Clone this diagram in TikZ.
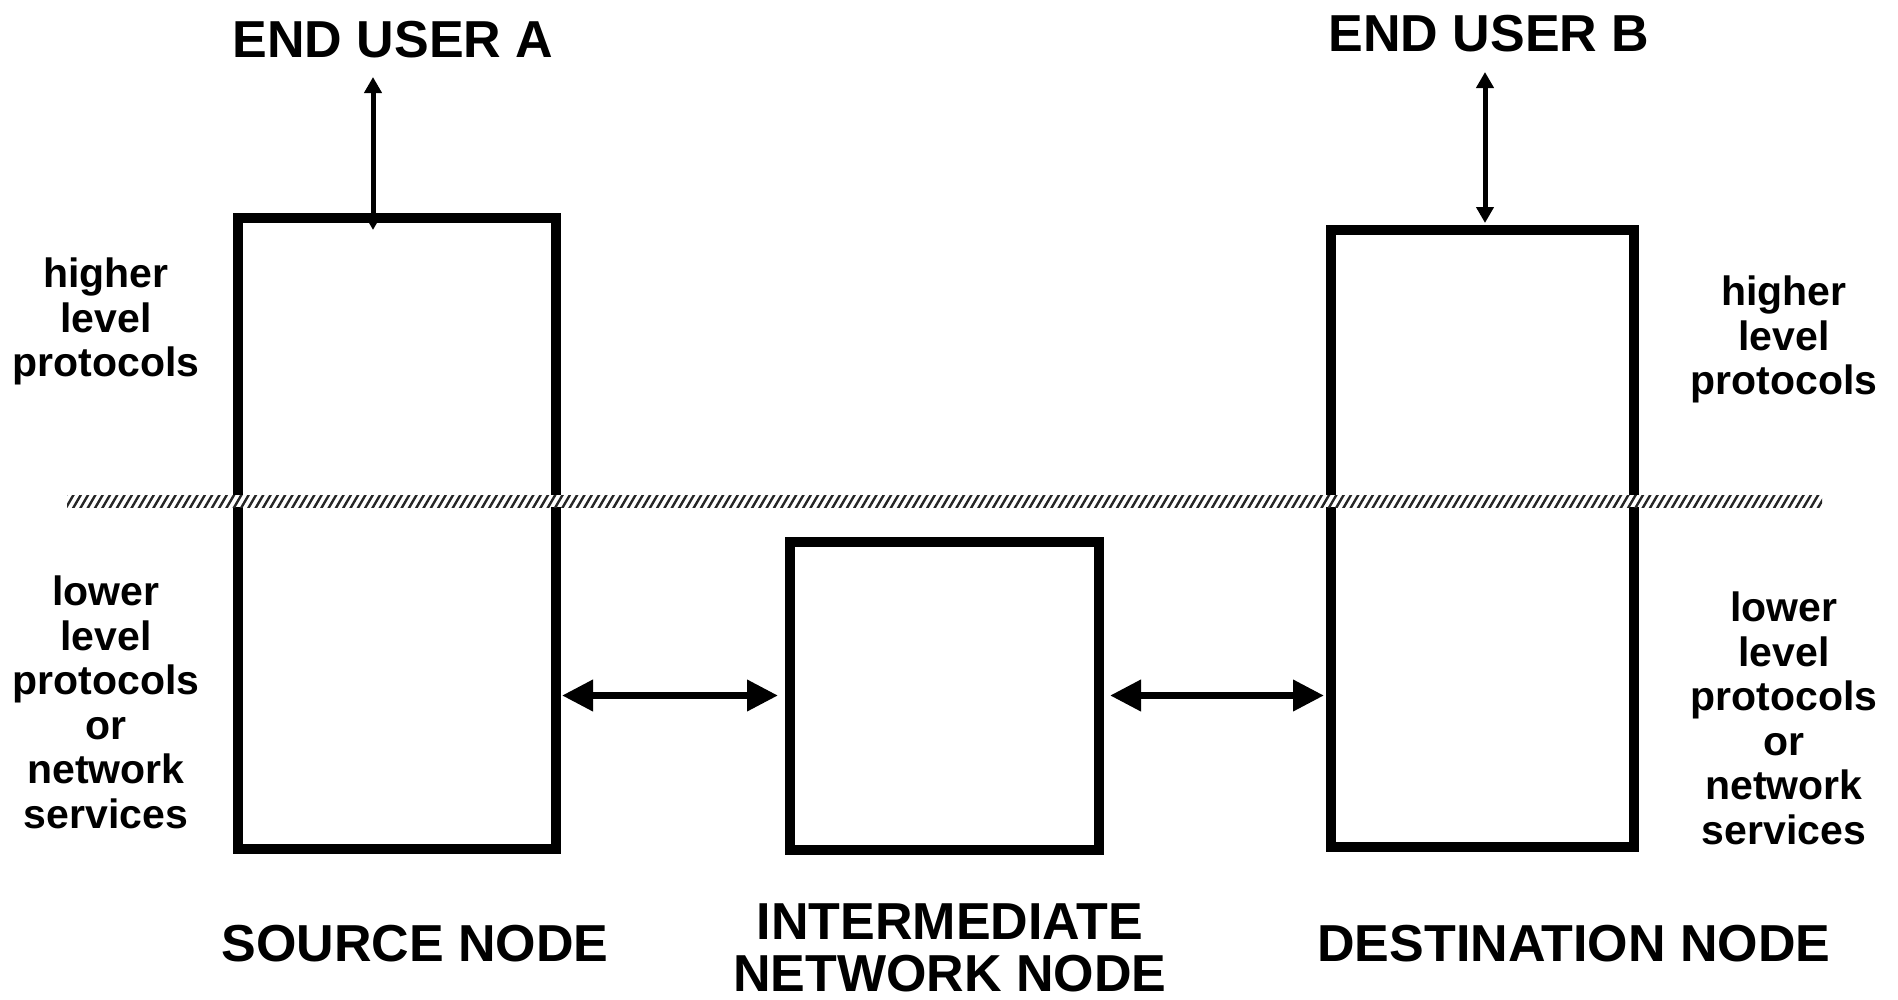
\documentclass[tikz,border=0pt]{standalone}
\usepackage{fontspec}
\setmainfont{Liberation Sans}
\usetikzlibrary{arrows.meta,calc}
\tikzset{
  big/.style={font=\fontsize{52}{52}\selectfont\bfseries, inner sep=0pt, align=center},
  small/.style={font=\fontsize{41}{44.5}\selectfont\bfseries, inner sep=0pt, align=center},
  nodebox/.style={draw=black, line width=10pt, inner sep=0pt, fill=none},
  thinarrow/.style={line width=5pt, {Triangle[length=16pt,width=17pt]}-{Triangle[length=16pt,width=17pt]}},
  thickarrow/.style={line width=7pt, {Triangle[length=31pt,width=30pt]}-{Triangle[length=31pt,width=30pt]}},
  hatchline/.style={line width=2.4pt, black!85}
}
\begin{document}
\begin{tikzpicture}[x=1pt,y=-1pt]
\useasboundingbox (0,0) rectangle (1898,999);
\coordinate (ua) at (373,77);
\coordinate (ub) at (1485,72);
% invisible guides for the end-user arrows (drawn below boxes)
\path (396.75,533.5) node[nodebox, draw=none, minimum width=318.5pt, minimum height=631pt] (srcg) {};
\path (1482.5,538.5) node[nodebox, draw=none, minimum width=303pt, minimum height=617pt] (dstg) {};
\draw[thinarrow] (ua) -- ($(ua |- srcg.north)+(0,17)$);
\draw[thinarrow] (ub) -- ($(ub |- dstg.north)+(0,-2)$);
% boxes
\node[nodebox, minimum width=318.5pt, minimum height=631pt] (src) at (396.75,533.5) {};
\node[nodebox, minimum width=309pt, minimum height=308pt] (mid) at (944.5,695.5) {};
\node[nodebox, minimum width=303pt, minimum height=617pt] (dst) at (1482.5,538.5) {};
% horizontal arrows
\draw[thickarrow, shorten <=1pt, shorten >=7pt] (src.east |- mid.west) -- (mid.west);
\draw[thickarrow, shorten <=6pt, shorten >=2pt] (mid.east) -- (dst.west |- mid.east);
% hatched divider
\fill[white] (67,495) rectangle (1822,507);
\begin{scope}
  \clip (67,495) rectangle (1822,507);
  \foreach \x in {58,65.3,...,1830} {
    \draw[hatchline] (\x,509) -- (\x+9.3,493);
  }
\end{scope}
% labels
\node[big, anchor=base] (ea) at (393,57) {END USER A};
\node[big, anchor=base] (eb) at (1489,51) {END USER B};
\node[big, anchor=base] (sn) at (415,961) {SOURCE NODE};
\node[big, anchor=north] (in) at (950,904) {INTERMEDIATE\\NETWORK NODE};
\node[big, anchor=base] (dn) at (1574,961) {DESTINATION NODE};
\node[small, anchor=north] (lh) at (106,258) {higher\\level\\protocols};
\node[small, anchor=north] (ll) at (106,576) {lower\\level\\protocols\\or\\network\\services};
\node[small, anchor=north] (rh) at (1784,276) {higher\\level\\protocols};
\node[small, anchor=north] (rl) at (1784,592) {lower\\level\\protocols\\or\\network\\services};
\end{tikzpicture}
\end{document}
